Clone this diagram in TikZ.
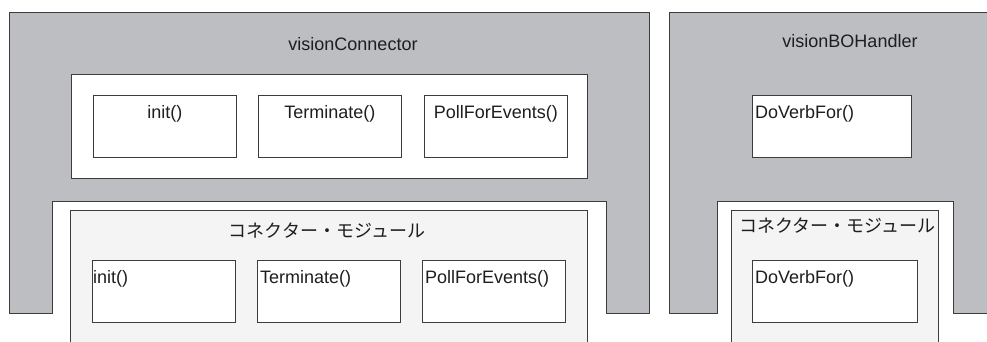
\documentclass[tikz,border=0pt]{standalone}
\usepackage{fontspec}
\setmainfont{Liberation Sans}
\newfontfamily\jpfont{Noto Sans CJK JP}
\usetikzlibrary{calc}

\definecolor{panelgray}{HTML}{BDBEC2}
\definecolor{modgray}{HTML}{F4F4F4}
\definecolor{edgegray}{HTML}{3C3C3C}
\definecolor{inkgray}{HTML}{1E1E1E}

\begin{document}
\begin{tikzpicture}[x=1pt, y=-1pt,
	edge/.style={draw=edgegray, line width=0.9pt},
	panel/.style={edge, fill=panelgray},
	group/.style={edge, fill=white, anchor=north west, inner sep=0pt},
	module/.style={edge, fill=modgray, anchor=north west, inner sep=0pt},
	method/.style={edge, fill=white, anchor=north west, inner sep=0pt, minimum height=62pt},
	caption/.style={font=\fontsize{18}{20}\selectfont, text=inkgray, inner sep=0pt},
	callmid/.style={caption, anchor=base, yshift=-23.5pt},
	callleft/.style={caption, anchor=base west, xshift=3pt, yshift=-23.5pt},
]

	% ---- frame

	\useasboundingbox (0,0) rectangle (987,341);

	% ---- panels

	\path[panel] (9,12) -- (649,12) -- (649,313) -- (606,313) -- (606,201)
		-- (52,201) -- (52,313) -- (9,313) -- cycle;

	\fill[panelgray] (669,12) -- (987,12) -- (987,313) -- (953,313) -- (953,201)
		-- (717,201) -- (717,313) -- (669,313) -- cycle;
	\draw[edge] (987,12) -- (669,12) -- (669,313) -- (717,313) -- (717,201)
		-- (953,201) -- (953,313) -- (987,313);

	% ---- titles

	\node[caption, anchor=base] (conntitle) at (353,50) {visionConnector};
	\node[caption, anchor=base] (hdltitle) at (850,47) {visionBOHandler};

	% ---- visionConnector calls

	\node[group, minimum width=516pt, minimum height=104pt] (conncalls) at (71,74) {};

	\node[method, minimum width=143pt] (initA) at (93,95) {};
	\node[method, minimum width=143pt] (termA) at (258,95) {};
	\node[method, minimum width=143pt] (pollA) at (424,95) {};

	\node[callmid] (initAtxt) at (initA.north) {init()};
	\node[callmid] (termAtxt) at (termA.north) {Terminate()};
	\node[callmid] (pollAtxt) at (pollA.north) {PollForEvents()};

	% ---- visionBOHandler call

	\node[method, minimum width=159pt] (verbA) at (752,95) {};
	\node[callleft] (verbAtxt) at (verbA.north west) {DoVerbFor()};

	% ---- connector modules

	\node[module, minimum width=517pt, minimum height=140pt] (modA) at (70,210) {};
	\node[module, minimum width=207pt, minimum height=140pt] (modB) at (731,210) {};

	\node[caption, font=\fontsize{18}{20}\selectfont\jpfont, anchor=base] (modAtxt) at (327,237) {コネクター・モジュール};
	\node[caption, font=\fontsize{18}{20}\selectfont\jpfont, anchor=base] (modBtxt) at (837,232) {コネクター・モジュール};

	\node[method, minimum width=143pt] (initB) at (92,260) {};
	\node[method, minimum width=143pt] (termB) at (257,260) {};
	\node[method, minimum width=143pt] (pollB) at (422,260) {};
	\node[method, minimum width=165pt] (verbB) at (752,260) {};

	\node[callleft, xshift=-2pt] (initBtxt) at (initB.north west) {init()};
	\node[callleft] (termBtxt) at (termB.north west) {Terminate()};
	\node[callleft] (pollBtxt) at (pollB.north west) {PollForEvents()};
	\node[callleft] (verbBtxt) at (verbB.north west) {DoVerbFor()};

\end{tikzpicture}
\end{document}
